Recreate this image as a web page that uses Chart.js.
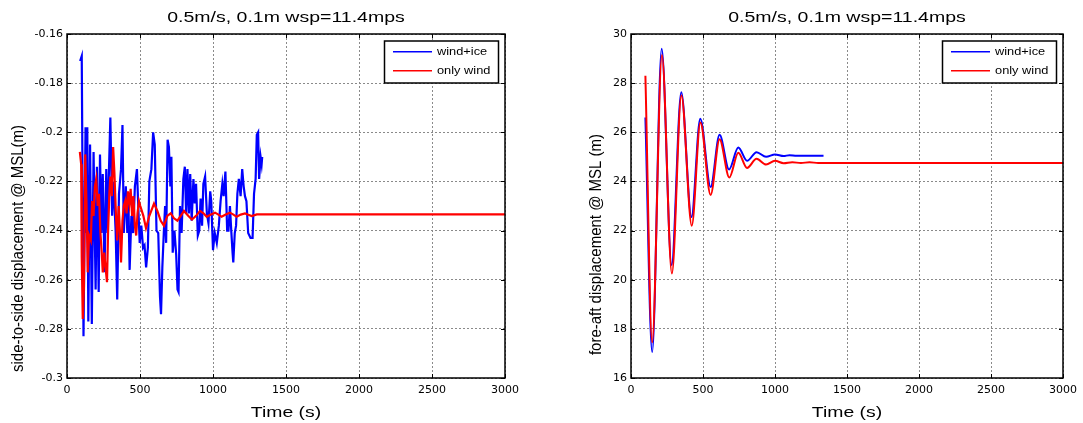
<!DOCTYPE html>
<html>
<head>
<meta charset="utf-8">
<script src="https://cdn.jsdelivr.net/npm/chart.js@4.4.1/dist/chart.umd.min.js"></script>
<style>
  body { margin: 0; background: #fff; }
  .box { position: absolute; top: 0; height: 423px; }
</style>
</head>
<body>
<div class="box" style="left:0;width:541px"><canvas id="left"></canvas></div>
<div class="box" style="left:541px;width:542px"><canvas id="right"></canvas></div>
<script>
// side-to-side displacement (left panel)
const ssIceTime = [
  90, 101, 113, 127, 134, 139, 146, 158, 170, 182,
  196, 205, 217, 226, 236, 245, 257, 269, 278, 288,
  297, 309, 318, 333, 344, 356, 370, 380, 389, 403,
  413, 420, 429, 441, 453, 465, 479, 488, 498, 509,
  521, 531, 542, 554, 564, 578, 590, 601, 613, 625,
  637, 644, 653, 663, 672, 679, 689, 698, 708, 715,
  724, 736, 748, 757, 764, 774, 785, 797, 807, 816,
  825, 835, 844, 854, 866, 875, 884, 896, 906, 915,
  925, 934, 946, 958, 969, 981, 988, 1000, 1012, 1026,
  1040, 1052, 1064, 1073, 1085, 1097, 1106, 1116, 1125, 1134,
  1139, 1149, 1158, 1167, 1177, 1189, 1200, 1210, 1219, 1229,
  1241, 1257, 1271, 1281, 1292, 1300, 1309, 1316, 1326, 1333,
  1337
];
const ssIce = [
  -0.171, -0.169, -0.283, -0.198, -0.241, -0.198, -0.277, -0.205, -0.278, -0.208,
  -0.264, -0.214, -0.265, -0.209, -0.241, -0.217, -0.257, -0.215, -0.241, -0.214,
  -0.194, -0.234, -0.220, -0.240, -0.268, -0.225, -0.215, -0.197, -0.241, -0.222,
  -0.241, -0.226, -0.256, -0.234, -0.241, -0.222, -0.215, -0.230, -0.245, -0.238,
  -0.247, -0.246, -0.255, -0.247, -0.220, -0.215, -0.200, -0.205, -0.240, -0.241,
  -0.267, -0.274, -0.255, -0.241, -0.230, -0.245, -0.203, -0.206, -0.222, -0.210,
  -0.249, -0.240, -0.250, -0.264, -0.265, -0.230, -0.241, -0.219, -0.214, -0.233,
  -0.215, -0.233, -0.217, -0.236, -0.219, -0.229, -0.221, -0.242, -0.240, -0.227,
  -0.238, -0.221, -0.218, -0.233, -0.237, -0.224, -0.228, -0.248, -0.241, -0.245,
  -0.238, -0.228, -0.221, -0.226, -0.216, -0.240, -0.240, -0.230, -0.240, -0.249,
  -0.253, -0.241, -0.238, -0.225, -0.219, -0.226, -0.215, -0.222, -0.226, -0.228,
  -0.241, -0.243, -0.243, -0.225, -0.219, -0.201, -0.200, -0.219, -0.210, -0.213,
  -0.210
];
const ssWindTime = [
  88, 97, 101, 108, 116, 125, 134, 142, 151, 163,
  172, 182, 191, 200, 210, 219, 229, 238, 245, 255,
  264, 274, 281, 290, 297, 307, 316, 325, 335, 344,
  354, 363, 370, 380, 389, 399, 408, 417, 427, 436,
  446, 455, 465, 474, 483, 493, 502, 523, 541, 564,
  596, 619, 642, 664, 687, 710, 733, 756, 779, 801,
  830, 856, 884, 911, 935, 957, 985, 1014, 1037, 1059,
  1087, 1116, 1140, 1162, 1190, 1219, 1242, 1265, 1300, 3000
];
const ssWind = [
  -0.208, -0.213, -0.251, -0.276, -0.263, -0.209, -0.230, -0.257, -0.242, -0.244,
  -0.228, -0.234, -0.222, -0.219, -0.230, -0.225, -0.241, -0.249, -0.257, -0.249,
  -0.255, -0.261, -0.241, -0.225, -0.218, -0.226, -0.206, -0.217, -0.233, -0.244,
  -0.230, -0.241, -0.253, -0.236, -0.230, -0.228, -0.233, -0.224, -0.229, -0.223,
  -0.234, -0.226, -0.238, -0.242, -0.233, -0.228, -0.230, -0.234, -0.239, -0.234,
  -0.229, -0.232, -0.236, -0.238, -0.234, -0.233, -0.235, -0.236, -0.234, -0.232,
  -0.234, -0.2355, -0.234, -0.232, -0.233, -0.2344, -0.2335, -0.2327, -0.2335, -0.2344,
  -0.2335, -0.2327, -0.2335, -0.2344, -0.2335, -0.233, -0.2336, -0.2341, -0.2334, -0.2334
];

// fore-aft displacement (right panel)
const faIceTime = [100, 147, 213, 282, 349, 420, 481, 553, 615, 681, 745, 806, 872, 938, 1000, 1060, 1100, 1150, 1337];
const faIce = [26.6, 17.05, 29.4, 20.6, 27.63, 22.55, 26.55, 23.77, 25.9, 24.49, 25.38, 24.84, 25.19, 25.0, 25.1, 25.03, 25.07, 25.04, 25.05];
const faWindTime = [100, 147, 215, 284, 350, 422, 482, 553, 615, 683, 745, 806, 872, 938, 1000, 1060, 1120, 1180, 1240, 1300, 3000];
const faWind = [28.3, 17.45, 29.15, 20.25, 27.5, 22.2, 26.4, 23.45, 25.72, 24.16, 25.17, 24.55, 24.92, 24.69, 24.84, 24.74, 24.78, 24.75, 24.78, 24.75, 24.75];

const timeTicks = [0, 500, 1000, 1500, 2000, 2500, 3000];
const titleText = '0.5m/s, 0.1m wsp=11.4mps';
const seriesNames = ['wind+ice', 'only wind'];

const SANS = '"Liberation Sans", Arial, Helvetica, sans-serif';

function pairs(ts, vs) {
  return ts.map((t, i) => ({ x: t, y: vs[i] }));
}

// stretched text, the original figure is wider than tall
function wideText(ctx, text, x, y, sx, sy, size, align, rotate) {
  ctx.save();
  ctx.translate(x, y);
  if (rotate) ctx.rotate(-Math.PI / 2);
  ctx.scale(sx, sy);
  ctx.font = size + 'px ' + SANS;
  ctx.fillStyle = '#000';
  ctx.textAlign = align;
  ctx.textBaseline = 'middle';
  ctx.fillText(text, 0, 0);
  ctx.restore();
}

// matlab style box, inner ticks, legend and titles
const matlabFrame = {
  id: 'matlabFrame',
  afterDraw(chart, args, o) {
    const { ctx, chartArea: a } = chart;
    const xs = chart.scales.x, ys = chart.scales.y;
    ctx.save();
    ctx.strokeStyle = '#000';
    ctx.lineWidth = 1;
    ctx.beginPath();
    xs.ticks.forEach(t => {
      const p = Math.round(xs.getPixelForValue(t.value)) + 0.5;
      ctx.moveTo(p, a.bottom); ctx.lineTo(p, a.bottom - 4);
      ctx.moveTo(p, a.top); ctx.lineTo(p, a.top + 4);
    });
    ys.ticks.forEach(t => {
      const p = Math.round(ys.getPixelForValue(t.value)) + 0.5;
      ctx.moveTo(a.left, p); ctx.lineTo(a.left + 4, p);
      ctx.moveTo(a.right, p); ctx.lineTo(a.right - 4, p);
    });
    ctx.stroke();
    ctx.lineWidth = 1.5;
    ctx.strokeRect(a.left, a.top, a.right - a.left, a.bottom - a.top);

    // legend box
    const bw = 114, bh = 42;
    const bx = a.right - 6.5 - bw, by = a.top + 7;
    ctx.fillStyle = '#fff';
    ctx.fillRect(bx, by, bw, bh);
    ctx.strokeRect(bx, by, bw, bh);
    chart.data.datasets.forEach((ds, i) => {
      const ly = by + 10.7 + i * 19;
      ctx.strokeStyle = ds.borderColor;
      ctx.lineWidth = 1.5;
      ctx.beginPath();
      ctx.moveTo(bx + 8.5, ly);
      ctx.lineTo(bx + 47.5, ly);
      ctx.stroke();
      wideText(ctx, ds.label, bx + 52.5, ly, 1.22, 1, 10.5, 'left');
    });

    const cx = (a.left + a.right) / 2;
    wideText(ctx, titleText, cx, 18, 1.3, 1, 15, 'center');
    wideText(ctx, 'Time (s)', cx, 413, 1.25, 1, 15.5, 'center');
    wideText(ctx, o.yTitle, o.yTitleX, o.yTitleY, 1, 1.12, 15, 'center', true);
    ctx.restore();
  }
};

function makeOptions(yMin, yMax, yStep, axisWidth, rightPad, frame) {
  const tickFont = { family: 'DejaVu Sans', size: 11 };
  return {
    responsive: true,
    maintainAspectRatio: false,
    animation: false,
    layout: { padding: { left: 0, right: rightPad, top: 34, bottom: 0 } },
    elements: { point: { radius: 0 } },
    plugins: {
      legend: { display: false },
      tooltip: { enabled: false },
      matlabFrame: frame
    },
    scales: {
      x: {
        type: 'linear',
        min: 0,
        max: 3000,
        afterBuildTicks: s => { s.ticks = timeTicks.map(v => ({ value: v })); },
        ticks: { color: '#000', font: tickFont, padding: 6, maxRotation: 0, callback: v => String(v) },
        grid: { color: '#8a8a8a', drawTicks: false },
        border: { display: false, dash: [2, 2] },
        afterFit: s => { s.height = 45; }
      },
      y: {
        min: yMin,
        max: yMax,
        ticks: {
          stepSize: yStep,
          color: '#000',
          font: tickFont,
          padding: 4,
          callback: v => String(Math.round(v * 100) / 100)
        },
        grid: { color: '#8a8a8a', drawTicks: false },
        border: { display: false, dash: [2, 2] },
        afterFit: s => { s.width = axisWidth; }
      }
    }
  };
}

new Chart(document.getElementById('left'), {
  type: 'line',
  data: {
    datasets: [
      { label: seriesNames[0], data: pairs(ssIceTime, ssIce), borderColor: '#0000ff', borderWidth: 2.2, order: 1 },
      { label: seriesNames[1], data: pairs(ssWindTime, ssWind), borderColor: '#ff0000', borderWidth: 2.2, order: 0 }
    ]
  },
  options: makeOptions(-0.3, -0.16, 0.02, 67, 36,
    { yTitle: 'side-to-side displacement @ MSL(m)', yTitleX: 18, yTitleY: 248.5 }),
  plugins: [matlabFrame]
});

new Chart(document.getElementById('right'), {
  type: 'line',
  data: {
    datasets: [
      { label: seriesNames[0], data: pairs(faIceTime, faIce), borderColor: '#0000ff', borderWidth: 2, cubicInterpolationMode: 'monotone', order: 1 },
      { label: seriesNames[1], data: pairs(faWindTime, faWind), borderColor: '#ff0000', borderWidth: 2, cubicInterpolationMode: 'monotone', order: 0 }
    ]
  },
  options: makeOptions(16, 30, 2, 90, 14,
    { yTitle: 'fore-aft displacement @ MSL (m)', yTitleX: 55, yTitleY: 244.5 }),
  plugins: [matlabFrame]
});
</script>
</body>
</html>
